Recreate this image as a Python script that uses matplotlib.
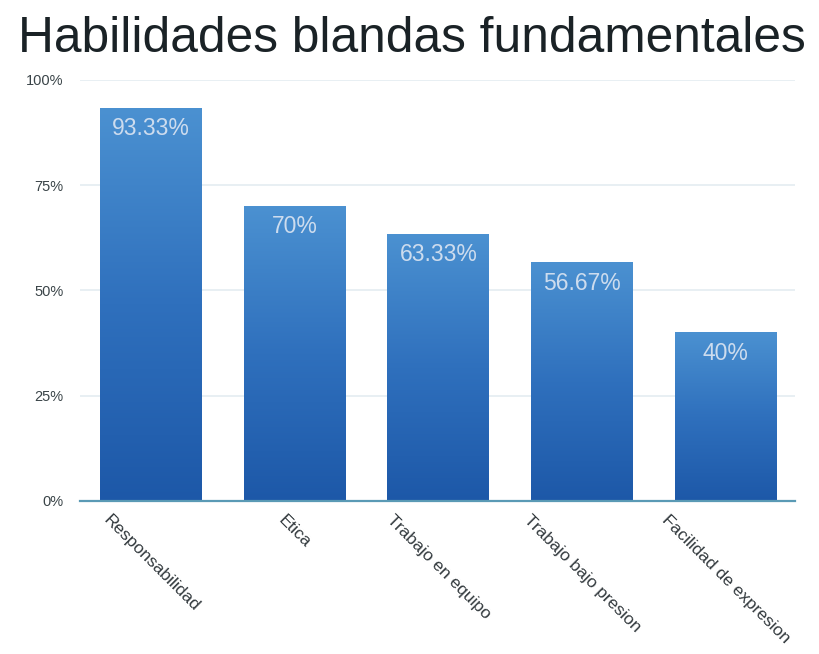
import numpy as np
import matplotlib
matplotlib.use("Agg")
import matplotlib.pyplot as plt
from matplotlib.colors import LinearSegmentedColormap

categories = ["Responsabilidad", "Etica", "Trabajo en equipo", "Trabajo bajo presion", "Facilidad de expresion"]
values = [93.33, 70, 63.33, 56.67, 40]
value_labels = ["93.33%", "70%", "63.33%", "56.67%", "40%"]
yticks = [0, 25, 50, 75, 100]
ytick_labels = ["0%", "25%", "50%", "75%", "100%"]
title = "Habilidades blandas fundamentales"

plt.rcParams['font.family'] = ['Liberation Sans', 'DejaVu Sans']

fig = plt.figure(figsize=(8.19, 6.54), dpi=100)
ax = fig.add_axes([0.098, 0.234, 0.873, 0.644])

x = np.arange(len(categories))
bars = ax.bar(x, values, width=0.71, color="#3a7cc4", zorder=2)

cmap = LinearSegmentedColormap.from_list("g", ["#1d58a8", "#2f70bd", "#4b91d1"])
grad = np.linspace(0, 1, 256).reshape(-1, 1)
for b in bars:
    x0, w, h = b.get_x(), b.get_width(), b.get_height()
    im = ax.imshow(grad, extent=[x0, x0 + w, 0, h], origin="lower", cmap=cmap,
                   aspect="auto", zorder=3, vmin=0, vmax=1)
    im.set_clip_path(b)

for xi, v, lab in zip(x, values, value_labels):
    ax.text(xi, v - 2.2, lab, ha="center", va="top", color="#cddcee",
            fontsize=16.5, zorder=4)

ax.set_xlim(-0.494, len(categories) - 0.516)
ax.set_ylim(0, 100)
ax.set_yticks(yticks)
ax.set_yticklabels(ytick_labels, fontsize=10.5, color="#3a4448")
ax.set_xticks(x)
ax.set_xticklabels(categories, rotation=-45, ha="center", va="top",
                   fontsize=12.5, color="#333a3e")
ax.tick_params(axis="both", length=0)
ax.tick_params(axis="y", pad=12)
ax.tick_params(axis="x", pad=8)
ax.yaxis.grid(True, color="#e4ecf1", linewidth=1.2, zorder=0)
ax.set_axisbelow(True)
for s in ["top", "right", "left"]:
    ax.spines[s].set_visible(False)
ax.spines["bottom"].set_color("#5a9ab5")
ax.spines["bottom"].set_linewidth(1.6)
ax.spines["bottom"].set_zorder(5)

fig.text(0.022, 0.941, title, fontsize=35.7, color="#1a2226", ha="left", va="center")

fig.savefig("out.png", dpi=100, facecolor="white")
